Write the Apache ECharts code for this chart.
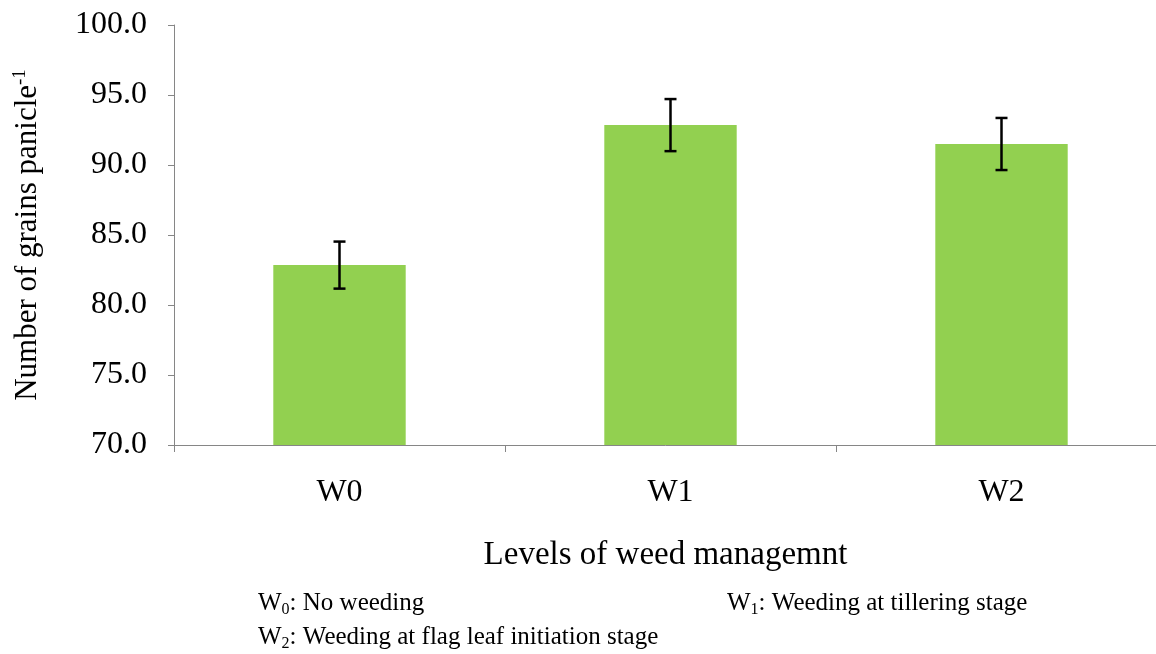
<!DOCTYPE html>
<html>
<head>
<meta charset="utf-8">
<script src="https://cdn.jsdelivr.net/npm/echarts@6/dist/echarts.min.js"></script>
<style>
html,body{margin:0;padding:0;background:#fff;}
#c{width:1156px;height:654px;}
</style>
</head>
<body>
<div id="c"></div>
<script>
var categories = ['W0', 'W1', 'W2'];
var values = [82.85, 92.85, 91.5];
var errors = [1.68, 1.86, 1.86];
var yTicks = {min: 70, max: 100, interval: 5};

var FONT = '"Liberation Serif", "Times New Roman", serif';
var chart = echarts.init(document.getElementById('c'));

var errData = categories.map(function (c, i) { return [i, values[i] - errors[i], values[i] + errors[i]]; });

function noteRich() {
  return {
    a: {fontFamily: FONT, fontSize: 25, fill: '#000', lineHeight: 30},
    s: {fontFamily: FONT, fontSize: 16, fill: '#000', verticalAlign: 'bottom', lineHeight: 30, padding: [12, 0, 0, 0]}
  };
}

chart.setOption({
  animation: false,
  backgroundColor: '#fff',
  grid: {left: 174, top: 25, bottom: 209, width: 993, containLabel: false, outerBoundsMode: 'none'},
  xAxis: {
    type: 'category',
    data: categories,
    name: 'Levels of weed managemnt',
    nameLocation: 'middle',
    nameGap: 94,
    nameTextStyle: {fontFamily: FONT, fontSize: 33, color: '#000', padding: [0, 10, 0, 0]},
    axisLine: {lineStyle: {color: '#868686', width: 1}},
    axisTick: {show: true, length: 7, alignWithLabel: false, lineStyle: {color: '#868686'}},
    axisLabel: {fontFamily: FONT, fontSize: 32, color: '#000', margin: 32}
  },
  yAxis: {
    type: 'value',
    min: yTicks.min, max: yTicks.max, interval: yTicks.interval,
    name: '{m|Number of grains panicle}{s|-1}',
    nameLocation: 'middle',
    nameGap: 129,
    nameTextStyle: {
      fontFamily: FONT, fontSize: 31, color: '#000',
      rich: {
        m: {fontFamily: FONT, fontSize: 31, color: '#000', lineHeight: 34},
        s: {fontFamily: FONT, fontSize: 19, color: '#000', verticalAlign: 'top', lineHeight: 34, padding: [0, 0, 16, 0]}
      }
    },
    axisLine: {show: true, lineStyle: {color: '#868686', width: 1}},
    axisTick: {show: true, length: 6, lineStyle: {color: '#868686'}},
    splitLine: {show: false},
    axisLabel: {fontFamily: FONT, fontSize: 32, color: '#000', margin: 27,
      formatter: function (v) { return v.toFixed(1); }}
  },
  series: [
    {
      type: 'bar',
      data: values,
      barWidth: '40%',
      itemStyle: {color: '#92D050'}
    },
    {
      type: 'custom',
      data: errData,
      z: 10,
      renderItem: function (params, api) {
        var x = api.value(0);
        var lo = api.coord([x, api.value(1)]);
        var hi = api.coord([x, api.value(2)]);
        var hw = 6;
        var st = {stroke: '#000', lineWidth: 2.5};
        return {
          type: 'group',
          children: [
            {type: 'line', shape: {x1: hi[0], y1: hi[1], x2: lo[0], y2: lo[1]}, style: st},
            {type: 'line', shape: {x1: hi[0] - hw, y1: hi[1], x2: hi[0] + hw, y2: hi[1]}, style: st},
            {type: 'line', shape: {x1: lo[0] - hw, y1: lo[1], x2: lo[0] + hw, y2: lo[1]}, style: st}
          ]
        };
      }
    }
  ],
  graphic: [
    {type: 'text', left: 258, top: 590, style: {text: '{a|W}{s|0}{a|: No weeding}', rich: noteRich()}},
    {type: 'text', left: 727, top: 590, style: {text: '{a|W}{s|1}{a|: Weeding at tillering stage}', rich: noteRich()}},
    {type: 'text', left: 258, top: 624, style: {text: '{a|W}{s|2}{a|: Weeding at flag leaf initiation stage}', rich: noteRich()}}
  ]
});
</script>
</body>
</html>
